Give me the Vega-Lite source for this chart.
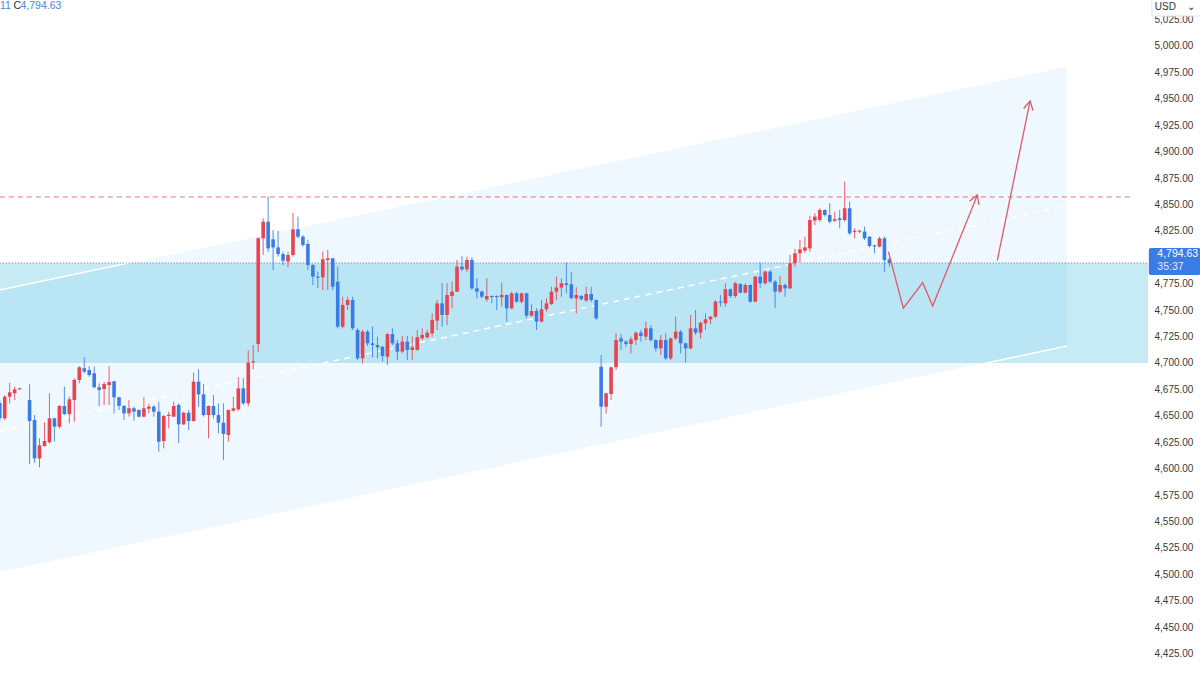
{
"$schema": "https://vega.github.io/schema/vega-lite/v6.json",
"width": 1148, "height": 675,
"autosize": {"type": "none"},
"padding": {"left": 0, "top": 0, "right": 52, "bottom": 0},
"background": "#ffffff",
"config": {"view": {"stroke": null},
  "axisY": {"ticks": false, "domain": false, "grid": false, "labelPadding": 6, "labelFont": "Liberation Sans", "labelFontSize": 10, "labelColor": "#3a3a3a", "labelFlush": false, "labelOverlap": false, "title": null}},
"datasets": {
"zone": [{"k0": 0, "k1": 231.1, "p0": 4700, "p1": 4794.63}],
"channel": [{"k": 0, "top": 4769.1, "bot": 4501.3, "mid": 4635.2}, {"k": 214.7, "top": 4981.1, "bot": 4716.1, "mid": 4848.6}],
"last": [{"k0": 0, "k1": 231.1, "p": 4794.63}],
"level": [{"k0": 0, "k1": 228.0, "p": 4857.1}],
"path": [
{"seg": "zz", "i": 0, "k": 178.8, "p": 4805.3}, {"seg": "zz", "i": 1, "k": 181.8, "p": 4751.8}, {"seg": "zz", "i": 2, "k": 185.7, "p": 4776.0}, {"seg": "zz", "i": 3, "k": 187.7, "p": 4753.9}, {"seg": "zz", "i": 4, "k": 196.7, "p": 4859.0},
{"seg": "hd1", "i": 0, "k": 195.1, "p": 4853.1}, {"seg": "hd1", "i": 1, "k": 196.7, "p": 4859.0}, {"seg": "hd1", "i": 2, "k": 197.0, "p": 4849.6},
{"seg": "ar2", "i": 0, "k": 200.7, "p": 4796.8}, {"seg": "ar2", "i": 1, "k": 207.3, "p": 4947.9},
{"seg": "hd2", "i": 0, "k": 206.0, "p": 4940.8}, {"seg": "hd2", "i": 1, "k": 207.3, "p": 4947.9}, {"seg": "hd2", "i": 2, "k": 207.9, "p": 4938.9}
],
"pricebox": [{"k0": 231.2, "k1": 241.6, "p0": 4783.3, "p1": 4808.8}],
"pricetext": [{"k": 232.9, "p": 4803.1, "t": "4,794.63", "w": "price"}, {"k": 232.9, "p": 4790.8, "t": "35:37", "w": "timer"}],
"usdbox": [{"k0": 231.8, "k1": 241.7, "p0": 5028.4, "p1": 5044.5}],
"usdtext": [{"k": 232.4, "p": 5037.3, "t": "USD"}, {"k": 238.9, "p": 5037.3, "t": "⌄"}],
"legend": [{"k": 0.06, "p": 5037.8, "t": "11", "part": "a"}, {"k": 2.77, "p": 5037.8, "t": "C", "part": "b"}, {"k": 4.18, "p": 5037.8, "t": "4,794.63", "part": "c"}],
"candles": [
{"k":0,"o":4662,"h":4665,"l":4645,"c":4647.6},
{"k":1,"o":4647.6,"h":4669.5,"l":4646,"c":4668.1},
{"k":2,"o":4668.1,"h":4681.3,"l":4661.8,"c":4672.2},
{"k":3,"o":4671.3,"h":4677.6,"l":4665,"c":4675.0},
{"k":4,"o":4675.0,"h":4676.6,"l":4674.4,"c":4676.0},
{"k":6,"o":4664.9,"h":4679.8,"l":4604.4,"c":4645.1},
{"k":7,"o":4646.0,"h":4650.7,"l":4605.6,"c":4609.7},
{"k":8,"o":4609.7,"h":4628.7,"l":4601.2,"c":4622.0},
{"k":9,"o":4621.4,"h":4643.8,"l":4620.8,"c":4626.1},
{"k":10,"o":4624.9,"h":4671.3,"l":4623.9,"c":4647.6},
{"k":11,"o":4647.6,"h":4648.0,"l":4625.5,"c":4639.7},
{"k":12,"o":4639.7,"h":4660.2,"l":4638.0,"c":4659.3},
{"k":13,"o":4659.3,"h":4677.6,"l":4650.7,"c":4651.7},
{"k":14,"o":4651.7,"h":4668.1,"l":4642.9,"c":4665.6},
{"k":15,"o":4665.0,"h":4685.5,"l":4644.4,"c":4683.9},
{"k":16,"o":4683.9,"h":4697.1,"l":4680.7,"c":4695.9},
{"k":17,"o":4695.0,"h":4705.5,"l":4690.2,"c":4691.8},
{"k":18,"o":4693.3,"h":4697.1,"l":4687.0,"c":4688.6},
{"k":19,"o":4690.2,"h":4696.5,"l":4676.0,"c":4677.0},
{"k":20,"o":4677.0,"h":4680.7,"l":4659.3,"c":4674.4},
{"k":21,"o":4675.3,"h":4682.3,"l":4660.2,"c":4680.1},
{"k":22,"o":4679.1,"h":4697.1,"l":4660.2,"c":4682.0},
{"k":23,"o":4682.6,"h":4683.0,"l":4652.3,"c":4667.5},
{"k":24,"o":4667.5,"h":4668.0,"l":4655.5,"c":4659.3},
{"k":25,"o":4659.3,"h":4660.2,"l":4646.0,"c":4652.3},
{"k":26,"o":4652.3,"h":4664.9,"l":4649.2,"c":4657.1},
{"k":27,"o":4657.1,"h":4658.6,"l":4645.4,"c":4653.9},
{"k":28,"o":4655.5,"h":4656.1,"l":4648.5,"c":4649.2},
{"k":29,"o":4649.2,"h":4667.5,"l":4648.5,"c":4657.1},
{"k":30,"o":4656.7,"h":4661.2,"l":4652.3,"c":4658.6},
{"k":31,"o":4658.6,"h":4660.2,"l":4649.2,"c":4653.9},
{"k":32,"o":4653.9,"h":4663.4,"l":4616.0,"c":4625.5},
{"k":33,"o":4626.1,"h":4650.7,"l":4619.2,"c":4649.8},
{"k":34,"o":4649.8,"h":4653.9,"l":4638.1,"c":4651.0},
{"k":35,"o":4649.2,"h":4663.4,"l":4649.0,"c":4659.3},
{"k":36,"o":4660.2,"h":4661.8,"l":4624.0,"c":4641.9},
{"k":37,"o":4641.9,"h":4653.9,"l":4641.3,"c":4652.9},
{"k":38,"o":4652.9,"h":4655.5,"l":4636.6,"c":4645.1},
{"k":39,"o":4645.1,"h":4690.8,"l":4644.4,"c":4682.3},
{"k":40,"o":4682.3,"h":4694.0,"l":4658.6,"c":4670.3},
{"k":41,"o":4670.3,"h":4680.1,"l":4649.2,"c":4650.7},
{"k":42,"o":4650.7,"h":4659.8,"l":4628.7,"c":4659.3},
{"k":43,"o":4659.3,"h":4669.7,"l":4647.6,"c":4650.7},
{"k":44,"o":4650.7,"h":4661.8,"l":4633.4,"c":4643.5},
{"k":45,"o":4643.5,"h":4661.8,"l":4608.2,"c":4632.8},
{"k":46,"o":4631.8,"h":4656.0,"l":4625.5,"c":4655.5},
{"k":47,"o":4654.9,"h":4668.1,"l":4653.9,"c":4657.1},
{"k":48,"o":4656.1,"h":4686.4,"l":4654.9,"c":4676.0},
{"k":49,"o":4676.0,"h":4685.5,"l":4660.2,"c":4661.8},
{"k":50,"o":4661.8,"h":4712.0,"l":4659.0,"c":4700.3},
{"k":51,"o":4700.3,"h":4717.0,"l":4694.0,"c":4701.5},
{"k":52,"o":4718.0,"h":4819.0,"l":4710.0,"c":4818.0},
{"k":53,"o":4818.0,"h":4836.9,"l":4802.2,"c":4833.7},
{"k":54,"o":4833.7,"h":4857.4,"l":4805.0,"c":4808.5},
{"k":55,"o":4817.0,"h":4825.8,"l":4788.0,"c":4809.4},
{"k":56,"o":4809.4,"h":4825.2,"l":4800.6,"c":4803.1},
{"k":57,"o":4803.1,"h":4805.3,"l":4792.7,"c":4796.8},
{"k":58,"o":4795.9,"h":4805.3,"l":4790.5,"c":4802.2},
{"k":59,"o":4802.2,"h":4842.2,"l":4800.6,"c":4826.5},
{"k":60,"o":4826.5,"h":4838.5,"l":4818.0,"c":4819.5},
{"k":61,"o":4819.5,"h":4821.1,"l":4810.0,"c":4811.6},
{"k":62,"o":4812.6,"h":4816.4,"l":4788.0,"c":4792.7},
{"k":63,"o":4792.7,"h":4793.5,"l":4773.8,"c":4781.7},
{"k":64,"o":4781.7,"h":4786.4,"l":4770.6,"c":4780.6},
{"k":65,"o":4781.0,"h":4805.3,"l":4769.0,"c":4798.1},
{"k":66,"o":4797.4,"h":4806.9,"l":4769.0,"c":4799.0},
{"k":67,"o":4799.0,"h":4799.5,"l":4769.0,"c":4772.2},
{"k":68,"o":4776.9,"h":4791.1,"l":4732.8,"c":4734.4},
{"k":69,"o":4734.4,"h":4762.7,"l":4732.8,"c":4754.9},
{"k":70,"o":4754.9,"h":4762.7,"l":4750.1,"c":4759.6},
{"k":71,"o":4759.6,"h":4762.7,"l":4731.2,"c":4732.8},
{"k":72,"o":4731.2,"h":4732.8,"l":4702.8,"c":4704.4},
{"k":73,"o":4704.4,"h":4731.2,"l":4699.6,"c":4729.6},
{"k":74,"o":4729.6,"h":4731.2,"l":4716.0,"c":4718.6},
{"k":75,"o":4718.6,"h":4734.4,"l":4705.3,"c":4717.0},
{"k":76,"o":4717.0,"h":4724.9,"l":4704.4,"c":4714.8},
{"k":77,"o":4715.4,"h":4716.0,"l":4701.2,"c":4706.6},
{"k":78,"o":4705.9,"h":4728.0,"l":4698.1,"c":4727.4},
{"k":79,"o":4727.4,"h":4732.8,"l":4717.0,"c":4718.6},
{"k":80,"o":4718.6,"h":4721.7,"l":4702.8,"c":4710.7},
{"k":81,"o":4710.7,"h":4725.5,"l":4709.1,"c":4720.2},
{"k":82,"o":4720.2,"h":4725.5,"l":4702.8,"c":4712.3},
{"k":83,"o":4712.3,"h":4724.9,"l":4702.8,"c":4714.8},
{"k":84,"o":4712.3,"h":4731.2,"l":4711.7,"c":4724.3},
{"k":85,"o":4723.3,"h":4732.8,"l":4721.7,"c":4726.5},
{"k":86,"o":4724.3,"h":4731.2,"l":4723.3,"c":4728.7},
{"k":87,"o":4728.0,"h":4747.0,"l":4724.9,"c":4740.7},
{"k":88,"o":4740.0,"h":4759.6,"l":4731.2,"c":4756.4},
{"k":89,"o":4756.4,"h":4775.4,"l":4734.4,"c":4745.4},
{"k":90,"o":4745.4,"h":4775.4,"l":4735.9,"c":4764.3},
{"k":91,"o":4763.4,"h":4777.0,"l":4751.7,"c":4767.5},
{"k":92,"o":4767.5,"h":4797.5,"l":4767.0,"c":4791.2},
{"k":93,"o":4791.2,"h":4801.3,"l":4787.0,"c":4788.6},
{"k":94,"o":4788.6,"h":4800.6,"l":4786.4,"c":4797.5},
{"k":95,"o":4797.5,"h":4800.0,"l":4769.1,"c":4770.6},
{"k":96,"o":4770.6,"h":4780.1,"l":4761.2,"c":4767.5},
{"k":97,"o":4767.5,"h":4768.5,"l":4761.2,"c":4762.7},
{"k":98,"o":4760.2,"h":4780.1,"l":4758.0,"c":4763.4},
{"k":99,"o":4763.4,"h":4764.0,"l":4756.4,"c":4762.4},
{"k":100,"o":4763.4,"h":4764.0,"l":4750.1,"c":4762.4},
{"k":101,"o":4762.1,"h":4776.0,"l":4753.3,"c":4764.3},
{"k":102,"o":4764.3,"h":4765.0,"l":4739.1,"c":4751.7},
{"k":103,"o":4751.7,"h":4767.5,"l":4750.8,"c":4765.9},
{"k":104,"o":4765.9,"h":4767.5,"l":4757.0,"c":4758.0},
{"k":105,"o":4758.0,"h":4766.5,"l":4756.4,"c":4765.9},
{"k":106,"o":4765.9,"h":4766.5,"l":4742.3,"c":4744.8},
{"k":107,"o":4744.8,"h":4755.5,"l":4743.8,"c":4749.2},
{"k":108,"o":4749.2,"h":4751.7,"l":4731.2,"c":4739.1},
{"k":109,"o":4739.1,"h":4759.6,"l":4738.5,"c":4750.8},
{"k":110,"o":4750.8,"h":4761.2,"l":4748.6,"c":4756.4},
{"k":111,"o":4755.8,"h":4772.2,"l":4754.9,"c":4767.5},
{"k":112,"o":4767.5,"h":4781.7,"l":4759.6,"c":4771.3},
{"k":113,"o":4771.3,"h":4780.1,"l":4762.7,"c":4775.4},
{"k":114,"o":4775.4,"h":4794.9,"l":4765.9,"c":4773.8},
{"k":115,"o":4774.4,"h":4786.4,"l":4760.5,"c":4761.2},
{"k":116,"o":4761.2,"h":4771.6,"l":4747.0,"c":4764.3},
{"k":117,"o":4763.4,"h":4764.3,"l":4759.5,"c":4760.2},
{"k":118,"o":4759.0,"h":4772.2,"l":4758.0,"c":4765.3},
{"k":119,"o":4765.3,"h":4772.0,"l":4757.5,"c":4759.6},
{"k":120,"o":4759.6,"h":4760.2,"l":4740.7,"c":4742.3},
{"k":121,"o":4696.5,"h":4707.5,"l":4639.7,"c":4658.6},
{"k":122,"o":4658.6,"h":4671.9,"l":4652.0,"c":4671.3},
{"k":123,"o":4670.6,"h":4696.5,"l":4665.0,"c":4695.9},
{"k":124,"o":4695.9,"h":4728.0,"l":4693.3,"c":4721.7},
{"k":125,"o":4723.3,"h":4727.4,"l":4712.3,"c":4720.2},
{"k":126,"o":4720.2,"h":4721.5,"l":4715.4,"c":4718.0},
{"k":127,"o":4718.0,"h":4724.9,"l":4709.1,"c":4722.4},
{"k":128,"o":4721.7,"h":4729.6,"l":4717.0,"c":4728.7},
{"k":129,"o":4728.7,"h":4731.2,"l":4720.2,"c":4725.5},
{"k":130,"o":4724.9,"h":4739.1,"l":4721.7,"c":4732.8},
{"k":131,"o":4732.8,"h":4735.9,"l":4720.2,"c":4721.7},
{"k":132,"o":4721.7,"h":4722.5,"l":4710.7,"c":4713.8},
{"k":133,"o":4713.8,"h":4726.5,"l":4707.5,"c":4721.7},
{"k":134,"o":4721.7,"h":4728.0,"l":4702.8,"c":4704.4},
{"k":135,"o":4704.4,"h":4723.8,"l":4702.8,"c":4723.3},
{"k":136,"o":4723.3,"h":4743.8,"l":4721.7,"c":4729.6},
{"k":137,"o":4729.6,"h":4731.2,"l":4709.1,"c":4718.6},
{"k":138,"o":4718.6,"h":4719.2,"l":4700.3,"c":4713.8},
{"k":139,"o":4713.8,"h":4745.4,"l":4713.0,"c":4732.8},
{"k":140,"o":4732.8,"h":4750.1,"l":4726.5,"c":4728.7},
{"k":141,"o":4728.7,"h":4739.1,"l":4723.3,"c":4738.1},
{"k":142,"o":4737.5,"h":4746.9,"l":4731.2,"c":4741.3},
{"k":143,"o":4741.3,"h":4744.5,"l":4737.0,"c":4743.8},
{"k":144,"o":4743.8,"h":4759.6,"l":4742.5,"c":4758.0},
{"k":145,"o":4758.0,"h":4764.3,"l":4753.3,"c":4757.0},
{"k":146,"o":4756.4,"h":4775.4,"l":4753.3,"c":4769.7},
{"k":147,"o":4769.7,"h":4770.6,"l":4761.5,"c":4763.4},
{"k":148,"o":4763.4,"h":4776.9,"l":4761.5,"c":4775.4},
{"k":149,"o":4774.7,"h":4775.4,"l":4765.9,"c":4766.5},
{"k":150,"o":4766.5,"h":4775.4,"l":4765.9,"c":4773.8},
{"k":151,"o":4773.8,"h":4774.5,"l":4757.0,"c":4758.0},
{"k":152,"o":4758.0,"h":4782.3,"l":4757.5,"c":4781.7},
{"k":153,"o":4781.7,"h":4794.9,"l":4770.6,"c":4775.4},
{"k":154,"o":4775.4,"h":4788.0,"l":4774.0,"c":4786.4},
{"k":155,"o":4786.4,"h":4788.0,"l":4775.5,"c":4777.0},
{"k":156,"o":4777.0,"h":4778.5,"l":4751.7,"c":4767.5},
{"k":157,"o":4767.5,"h":4782.3,"l":4766.0,"c":4773.8},
{"k":158,"o":4773.8,"h":4775.4,"l":4762.7,"c":4770.6},
{"k":159,"o":4770.6,"h":4802.2,"l":4770.0,"c":4794.3},
{"k":160,"o":4794.3,"h":4808.0,"l":4791.1,"c":4803.8},
{"k":161,"o":4803.8,"h":4816.4,"l":4795.0,"c":4807.5},
{"k":162,"o":4806.3,"h":4819.5,"l":4804.0,"c":4809.4},
{"k":163,"o":4808.5,"h":4839.1,"l":4805.3,"c":4835.3},
{"k":164,"o":4834.7,"h":4841.6,"l":4830.6,"c":4838.5},
{"k":165,"o":4835.3,"h":4846.4,"l":4833.7,"c":4844.8},
{"k":166,"o":4844.8,"h":4845.4,"l":4838.5,"c":4840.0},
{"k":167,"o":4840.0,"h":4851.1,"l":4832.2,"c":4833.7},
{"k":168,"o":4834.5,"h":4843.2,"l":4833.7,"c":4836.0},
{"k":169,"o":4836.9,"h":4844.8,"l":4827.4,"c":4835.3},
{"k":170,"o":4835.3,"h":4871.6,"l":4833.7,"c":4846.4},
{"k":171,"o":4846.4,"h":4852.7,"l":4821.1,"c":4822.7},
{"k":172,"o":4824.0,"h":4827.4,"l":4818.0,"c":4825.0},
{"k":173,"o":4824.3,"h":4826.0,"l":4822.7,"c":4825.3},
{"k":174,"o":4824.3,"h":4829.0,"l":4816.4,"c":4818.0},
{"k":175,"o":4819.5,"h":4820.0,"l":4809.4,"c":4810.7},
{"k":176,"o":4811.3,"h":4812.0,"l":4803.8,"c":4810.3},
{"k":177,"o":4810.1,"h":4819.5,"l":4809.4,"c":4817.9},
{"k":178,"o":4817.9,"h":4819.5,"l":4786.4,"c":4797.5},
{"k":179,"o":4798.1,"h":4800.0,"l":4791.1,"c":4794.6}
]
},
"layer": [
{"data": {"name": "zone"}, "mark": {"type": "rect", "color": "#c6ebf5", "clip": true},
 "encoding": {
  "x": {"field": "k0", "type": "quantitative", "scale": {"domain": [0.05, 231.03], "nice": false, "zero": false, "padding": 0}, "axis": null},
  "x2": {"field": "k1"},
  "y": {"field": "p0", "type": "quantitative", "scale": {"domain": [4404.7, 5043.5], "nice": false, "zero": false},
        "axis": {"orient": "right", "values": [4425, 4450, 4475, 4500, 4525, 4550, 4575, 4600, 4625, 4650, 4675, 4700, 4725, 4750, 4775, 4800, 4825, 4850, 4875, 4900, 4925, 4950, 4975, 5000, 5025], "format": ",.2f"}},
  "y2": {"field": "p1"}}},
{"data": {"name": "channel"}, "mark": {"type": "area", "color": "#2196f3", "opacity": 0.07, "clip": true},
 "encoding": {
  "x": {"field": "k", "type": "quantitative", "scale": {"domain": [0.05, 231.03], "nice": false, "zero": false, "padding": 0}, "axis": null},
  "y": {"field": "top", "type": "quantitative", "scale": {"domain": [4404.7, 5043.5], "nice": false, "zero": false},
        "axis": {"orient": "right", "values": [4425, 4450, 4475, 4500, 4525, 4550, 4575, 4600, 4625, 4650, 4675, 4700, 4725, 4750, 4775, 4800, 4825, 4850, 4875, 4900, 4925, 4950, 4975, 5000, 5025], "format": ",.2f"}},
  "y2": {"field": "bot"}}},
{"data": {"name": "channel"}, "mark": {"type": "line", "color": "#ffffff", "strokeWidth": 1.5, "clip": true},
 "encoding": {
  "x": {"field": "k", "type": "quantitative", "scale": {"domain": [0.05, 231.03], "nice": false, "zero": false, "padding": 0}, "axis": null},
  "y": {"field": "top", "type": "quantitative", "scale": {"domain": [4404.7, 5043.5], "nice": false, "zero": false},
        "axis": {"orient": "right", "values": [4425, 4450, 4475, 4500, 4525, 4550, 4575, 4600, 4625, 4650, 4675, 4700, 4725, 4750, 4775, 4800, 4825, 4850, 4875, 4900, 4925, 4950, 4975, 5000, 5025], "format": ",.2f"}}}},
{"data": {"name": "channel"}, "mark": {"type": "line", "color": "#ffffff", "strokeWidth": 1.5, "clip": true},
 "encoding": {
  "x": {"field": "k", "type": "quantitative", "scale": {"domain": [0.05, 231.03], "nice": false, "zero": false, "padding": 0}, "axis": null},
  "y": {"field": "bot", "type": "quantitative", "scale": {"domain": [4404.7, 5043.5], "nice": false, "zero": false},
        "axis": {"orient": "right", "values": [4425, 4450, 4475, 4500, 4525, 4550, 4575, 4600, 4625, 4650, 4675, 4700, 4725, 4750, 4775, 4800, 4825, 4850, 4875, 4900, 4925, 4950, 4975, 5000, 5025], "format": ",.2f"}}}},
{"data": {"name": "channel"}, "mark": {"type": "line", "color": "#ffffff", "strokeWidth": 1.5, "strokeDash": [6, 5], "clip": true},
 "encoding": {
  "x": {"field": "k", "type": "quantitative", "scale": {"domain": [0.05, 231.03], "nice": false, "zero": false, "padding": 0}, "axis": null},
  "y": {"field": "mid", "type": "quantitative", "scale": {"domain": [4404.7, 5043.5], "nice": false, "zero": false},
        "axis": {"orient": "right", "values": [4425, 4450, 4475, 4500, 4525, 4550, 4575, 4600, 4625, 4650, 4675, 4700, 4725, 4750, 4775, 4800, 4825, 4850, 4875, 4900, 4925, 4950, 4975, 5000, 5025], "format": ",.2f"}}}},
{"data": {"name": "last"}, "mark": {"type": "rule", "color": "#4a5a70", "strokeWidth": 1, "strokeDash": [1, 2], "opacity": 0.75, "clip": true},
 "encoding": {
  "x": {"field": "k0", "type": "quantitative", "scale": {"domain": [0.05, 231.03], "nice": false, "zero": false, "padding": 0}, "axis": null},
  "x2": {"field": "k1"},
  "y": {"field": "p", "type": "quantitative", "scale": {"domain": [4404.7, 5043.5], "nice": false, "zero": false},
        "axis": {"orient": "right", "values": [4425, 4450, 4475, 4500, 4525, 4550, 4575, 4600, 4625, 4650, 4675, 4700, 4725, 4750, 4775, 4800, 4825, 4850, 4875, 4900, 4925, 4950, 4975, 5000, 5025], "format": ",.2f"}}}},
{"data": {"name": "level"}, "mark": {"type": "rule", "color": "#e57373", "strokeWidth": 1, "strokeDash": [5, 4], "clip": true},
 "encoding": {
  "x": {"field": "k0", "type": "quantitative", "scale": {"domain": [0.05, 231.03], "nice": false, "zero": false, "padding": 0}, "axis": null},
  "x2": {"field": "k1"},
  "y": {"field": "p", "type": "quantitative", "scale": {"domain": [4404.7, 5043.5], "nice": false, "zero": false},
        "axis": {"orient": "right", "values": [4425, 4450, 4475, 4500, 4525, 4550, 4575, 4600, 4625, 4650, 4675, 4700, 4725, 4750, 4775, 4800, 4825, 4850, 4875, 4900, 4925, 4950, 4975, 5000, 5025], "format": ",.2f"}}}},
{"data": {"name": "candles"}, "mark": {"type": "rule", "strokeWidth": 1, "opacity": 0.85, "clip": true},
 "encoding": {
  "x": {"field": "k", "type": "quantitative", "scale": {"domain": [0.05, 231.03], "nice": false, "zero": false, "padding": 0}, "axis": null},
  "y": {"field": "l", "type": "quantitative", "scale": {"domain": [4404.7, 5043.5], "nice": false, "zero": false},
        "axis": {"orient": "right", "values": [4425, 4450, 4475, 4500, 4525, 4550, 4575, 4600, 4625, 4650, 4675, 4700, 4725, 4750, 4775, 4800, 4825, 4850, 4875, 4900, 4925, 4950, 4975, 5000, 5025], "format": ",.2f"}},
  "y2": {"field": "h"},
  "color": {"condition": {"test": "datum.c >= datum.o", "value": "#e8434f"}, "value": "#3a7be6"}}},
{"data": {"name": "candles"}, "mark": {"type": "bar", "width": 3.6, "clip": true},
 "encoding": {
  "x": {"field": "k", "type": "quantitative", "scale": {"domain": [0.05, 231.03], "nice": false, "zero": false, "padding": 0}, "axis": null},
  "y": {"field": "o", "type": "quantitative", "scale": {"domain": [4404.7, 5043.5], "nice": false, "zero": false},
        "axis": {"orient": "right", "values": [4425, 4450, 4475, 4500, 4525, 4550, 4575, 4600, 4625, 4650, 4675, 4700, 4725, 4750, 4775, 4800, 4825, 4850, 4875, 4900, 4925, 4950, 4975, 5000, 5025], "format": ",.2f"}},
  "y2": {"field": "c"},
  "color": {"condition": {"test": "datum.c >= datum.o", "value": "#e8434f"}, "value": "#3a7be6"}}},
{"data": {"name": "path"}, "mark": {"type": "line", "color": "#e5586a", "strokeWidth": 1.3, "clip": true},
 "encoding": {
  "x": {"field": "k", "type": "quantitative", "scale": {"domain": [0.05, 231.03], "nice": false, "zero": false, "padding": 0}, "axis": null},
  "y": {"field": "p", "type": "quantitative", "scale": {"domain": [4404.7, 5043.5], "nice": false, "zero": false},
        "axis": {"orient": "right", "values": [4425, 4450, 4475, 4500, 4525, 4550, 4575, 4600, 4625, 4650, 4675, 4700, 4725, 4750, 4775, 4800, 4825, 4850, 4875, 4900, 4925, 4950, 4975, 5000, 5025], "format": ",.2f"}},
  "detail": {"field": "seg"},
  "order": {"field": "i"}}},
{"data": {"name": "pricebox"}, "mark": {"type": "rect", "color": "#3a7be6", "cornerRadius": 2},
 "encoding": {
  "x": {"field": "k0", "type": "quantitative", "scale": {"domain": [0.05, 231.03], "nice": false, "zero": false, "padding": 0}, "axis": null},
  "x2": {"field": "k1"},
  "y": {"field": "p0", "type": "quantitative", "scale": {"domain": [4404.7, 5043.5], "nice": false, "zero": false},
        "axis": {"orient": "right", "values": [4425, 4450, 4475, 4500, 4525, 4550, 4575, 4600, 4625, 4650, 4675, 4700, 4725, 4750, 4775, 4800, 4825, 4850, 4875, 4900, 4925, 4950, 4975, 5000, 5025], "format": ",.2f"}},
  "y2": {"field": "p1"}}},
{"data": {"name": "pricetext"}, "mark": {"type": "text", "align": "left", "baseline": "middle", "font": "Liberation Sans", "fontSize": 10.5, "color": "#ffffff"},
 "encoding": {
  "x": {"field": "k", "type": "quantitative", "scale": {"domain": [0.05, 231.03], "nice": false, "zero": false, "padding": 0}, "axis": null},
  "y": {"field": "p", "type": "quantitative", "scale": {"domain": [4404.7, 5043.5], "nice": false, "zero": false},
        "axis": {"orient": "right", "values": [4425, 4450, 4475, 4500, 4525, 4550, 4575, 4600, 4625, 4650, 4675, 4700, 4725, 4750, 4775, 4800, 4825, 4850, 4875, 4900, 4925, 4950, 4975, 5000, 5025], "format": ",.2f"}},
  "text": {"field": "t"},
  "opacity": {"condition": {"test": "datum.w == 'timer'", "value": 0.85}, "value": 1}}},
{"data": {"name": "usdbox"}, "mark": {"type": "rect", "color": "#ffffff", "stroke": "#e0e3eb", "strokeWidth": 1, "cornerRadius": 2},
 "encoding": {
  "x": {"field": "k0", "type": "quantitative", "scale": {"domain": [0.05, 231.03], "nice": false, "zero": false, "padding": 0}, "axis": null},
  "x2": {"field": "k1"},
  "y": {"field": "p0", "type": "quantitative", "scale": {"domain": [4404.7, 5043.5], "nice": false, "zero": false},
        "axis": {"orient": "right", "values": [4425, 4450, 4475, 4500, 4525, 4550, 4575, 4600, 4625, 4650, 4675, 4700, 4725, 4750, 4775, 4800, 4825, 4850, 4875, 4900, 4925, 4950, 4975, 5000, 5025], "format": ",.2f"}},
  "y2": {"field": "p1"}}},
{"data": {"name": "usdtext"}, "mark": {"type": "text", "align": "left", "baseline": "middle", "font": "Liberation Sans", "fontSize": 10, "color": "#333333"},
 "encoding": {
  "x": {"field": "k", "type": "quantitative", "scale": {"domain": [0.05, 231.03], "nice": false, "zero": false, "padding": 0}, "axis": null},
  "y": {"field": "p", "type": "quantitative", "scale": {"domain": [4404.7, 5043.5], "nice": false, "zero": false},
        "axis": {"orient": "right", "values": [4425, 4450, 4475, 4500, 4525, 4550, 4575, 4600, 4625, 4650, 4675, 4700, 4725, 4750, 4775, 4800, 4825, 4850, 4875, 4900, 4925, 4950, 4975, 5000, 5025], "format": ",.2f"}},
  "text": {"field": "t"}}},
{"data": {"name": "legend"}, "mark": {"type": "text", "align": "left", "baseline": "middle", "font": "Liberation Sans", "fontSize": 10.5},
 "encoding": {
  "x": {"field": "k", "type": "quantitative", "scale": {"domain": [0.05, 231.03], "nice": false, "zero": false, "padding": 0}, "axis": null},
  "y": {"field": "p", "type": "quantitative", "scale": {"domain": [4404.7, 5043.5], "nice": false, "zero": false},
        "axis": {"orient": "right", "values": [4425, 4450, 4475, 4500, 4525, 4550, 4575, 4600, 4625, 4650, 4675, 4700, 4725, 4750, 4775, 4800, 4825, 4850, 4875, 4900, 4925, 4950, 4975, 5000, 5025], "format": ",.2f"}},
  "text": {"field": "t"},
  "color": {"condition": {"test": "datum.part == 'b'", "value": "#2a2e39"}, "value": "#4a86d8"}}}
]
}
